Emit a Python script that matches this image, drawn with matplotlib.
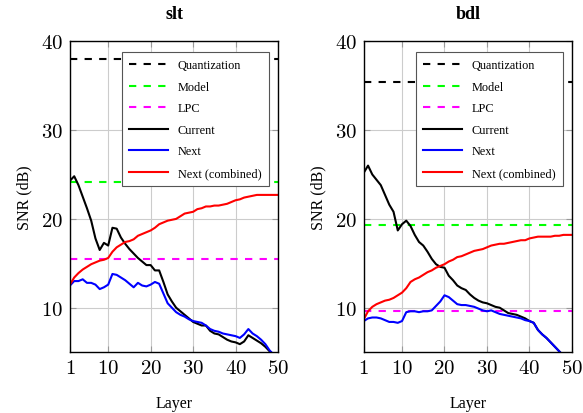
import numpy as np
import matplotlib
matplotlib.use("Agg")
import matplotlib.pyplot as plt
from matplotlib.ticker import FuncFormatter

plt.rcParams['font.family'] = 'Liberation Serif'
plt.rcParams['mathtext.fontset'] = 'cm'

layers = list(range(1, 51))

# slt
slt_quant = 38.0
slt_model = 24.2
slt_lpc = 15.5
slt_current = [24.3, 24.8, 23.8, 22.5, 21.2, 19.8, 17.8, 16.5, 17.3, 17.0,
               19.0, 18.9, 17.9, 17.2, 16.6, 16.1, 15.6, 15.2, 14.8, 14.8,
               14.2, 14.2, 12.9, 11.5, 10.7, 10.0, 9.6, 9.2, 8.8, 8.4,
               8.2, 8.0, 8.0, 7.4, 7.1, 7.0, 6.7, 6.4, 6.2, 6.1,
               5.9, 6.2, 6.9, 6.6, 6.3, 6.0, 5.6, 5.1, 4.7, 4.3]
slt_next = [12.5, 13.0, 13.0, 13.2, 12.8, 12.8, 12.6, 12.1, 12.3, 12.6,
            13.8, 13.7, 13.4, 13.1, 12.7, 12.3, 12.8, 12.5, 12.4, 12.6,
            12.9, 12.7, 11.6, 10.5, 10.0, 9.5, 9.2, 9.0, 8.7, 8.5,
            8.4, 8.3, 8.0, 7.6, 7.4, 7.3, 7.1, 7.0, 6.9, 6.8,
            6.6, 7.0, 7.6, 7.1, 6.8, 6.4, 5.9, 5.2, 4.7, 4.3]
slt_comb = [12.6, 13.4, 13.9, 14.3, 14.6, 14.9, 15.1, 15.3, 15.4, 15.6,
            16.3, 16.8, 17.1, 17.4, 17.5, 17.7, 18.1, 18.3, 18.5, 18.7,
            19.0, 19.4, 19.6, 19.8, 19.9, 20.0, 20.3, 20.6, 20.7, 20.8,
            21.1, 21.2, 21.4, 21.4, 21.5, 21.5, 21.6, 21.7, 21.9, 22.1,
            22.2, 22.4, 22.5, 22.6, 22.7, 22.7, 22.7, 22.7, 22.7, 22.7]

# bdl
bdl_quant = 35.4
bdl_model = 19.3
bdl_lpc = 9.6
bdl_current = [25.2, 26.0, 25.0, 24.4, 23.8, 22.7, 21.6, 20.8, 18.7, 19.4,
               19.8, 19.2, 18.2, 17.4, 17.0, 16.3, 15.5, 14.9, 14.6, 14.5,
               13.6, 13.1, 12.5, 12.2, 12.0, 11.5, 11.1, 10.8, 10.6, 10.5,
               10.3, 10.1, 10.0, 9.7, 9.4, 9.3, 9.2, 9.0, 8.8, 8.5,
               8.3, 7.5, 7.0, 6.6, 6.1, 5.6, 5.1, 4.6, 4.2, 3.8]
bdl_next = [8.5, 8.8, 8.9, 8.9, 8.8, 8.6, 8.4, 8.4, 8.3, 8.5,
            9.5, 9.6, 9.6, 9.5, 9.6, 9.6, 9.7, 10.2, 10.7, 11.4,
            11.2, 10.8, 10.4, 10.3, 10.3, 10.2, 10.1, 9.9, 9.7, 9.6,
            9.7, 9.5, 9.3, 9.2, 9.1, 9.0, 8.9, 8.8, 8.6, 8.5,
            8.3, 7.5, 7.0, 6.6, 6.1, 5.6, 5.1, 4.6, 4.2, 3.8]
bdl_comb = [8.7, 9.6, 10.1, 10.4, 10.6, 10.8, 10.9, 11.1, 11.4, 11.7,
            12.2, 12.9, 13.2, 13.4, 13.7, 14.0, 14.2, 14.5, 14.7, 14.9,
            15.2, 15.4, 15.7, 15.8, 16.0, 16.2, 16.4, 16.5, 16.6, 16.8,
            17.0, 17.1, 17.2, 17.2, 17.3, 17.4, 17.5, 17.6, 17.6, 17.8,
            17.9, 18.0, 18.0, 18.0, 18.0, 18.1, 18.1, 18.2, 18.2, 18.2]

panels = [
    ('slt', slt_quant, slt_model, slt_lpc, slt_current, slt_next, slt_comb),
    ('bdl', bdl_quant, bdl_model, bdl_lpc, bdl_current, bdl_next, bdl_comb),
]

fig = plt.figure(figsize=(5.83, 4.14), dpi=100)
lefts = [0.120, 0.624]
cm_fmt = FuncFormatter(lambda v, pos: r'$%d$' % int(round(v)))

for left, (name, q, m, l, cur, nxt, comb) in zip(lefts, panels):
    ax = fig.add_axes([left, 0.147, 0.357, 0.751])
    dash = (0, (3.5, 3.5))
    ax.axhline(q, color='black', lw=1.5, ls=dash, label='Quantization')
    ax.axhline(m, color='#00ff00', lw=1.5, ls=dash, label='Model')
    ax.axhline(l, color='#ff00ff', lw=1.5, ls=dash, label='LPC')
    ax.plot(layers, cur, color='black', lw=1.5, label='Current')
    ax.plot(layers, nxt, color='blue', lw=1.5, label='Next')
    ax.plot(layers, comb, color='red', lw=1.5, label='Next (combined)')

    ax.set_xlim(1, 50)
    ax.set_ylim(5, 40)
    ax.set_xticks([1, 10, 20, 30, 40, 50])
    ax.set_yticks([10, 20, 30, 40])
    ax.xaxis.set_major_formatter(cm_fmt)
    ax.yaxis.set_major_formatter(cm_fmt)
    ax.grid(True, color='#cccccc', lw=0.8)
    ax.set_axisbelow(True)
    ax.tick_params(direction='in', labelsize=15, color='#999999', length=4,
                   top=True, right=True, pad=5)
    ax.set_title(name, fontsize=13, fontweight='bold', pad=17)
    ax.set_xlabel('Layer', fontsize=11.5, labelpad=12)
    ax.set_ylabel('SNR (dB)', fontsize=11.5, labelpad=6)
    for s in ax.spines.values():
        s.set_linewidth(1.0)
    leg = ax.legend(loc='upper right', fontsize=8.8, handlelength=3.2,
                    fancybox=False, framealpha=1, edgecolor='#555555',
                    borderpad=0.6, labelspacing=0.78, handletextpad=0.8,
                    bbox_to_anchor=(0.985, 0.985))
    leg.get_frame().set_linewidth(0.8)

fig.savefig('out.png', dpi=100)
